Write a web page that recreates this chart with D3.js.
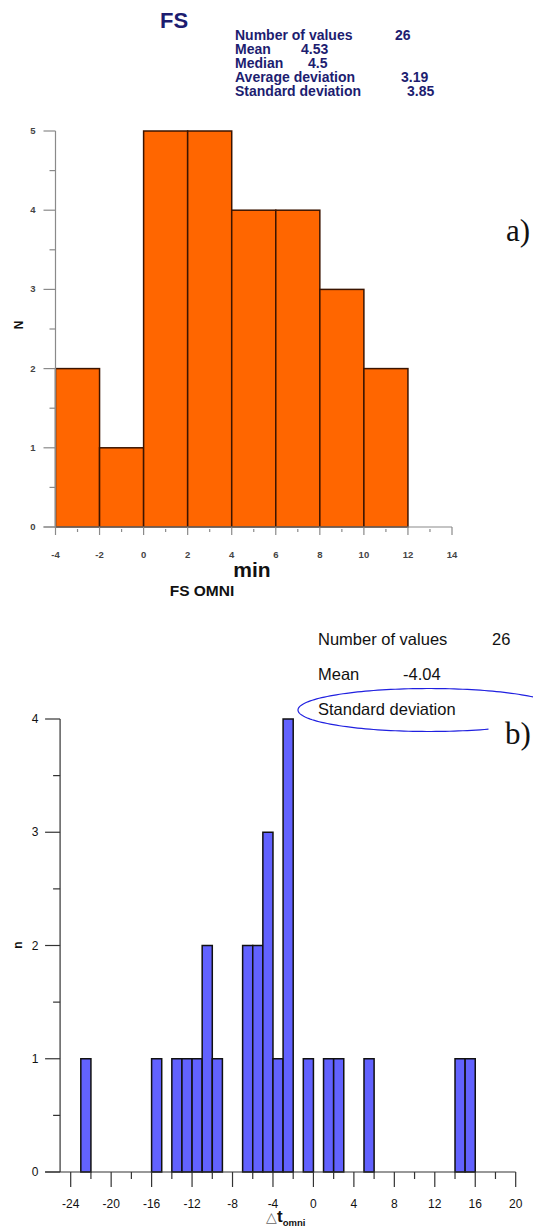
<!DOCTYPE html>
<html>
<head>
<meta charset="utf-8">
<script src="https://cdn.jsdelivr.net/npm/d3@7"></script>
<style>
  body { margin: 0; background: #fff; }
  svg { display: block; font-family: Arial, "Liberation Sans", sans-serif; }
</style>
</head>
<body>
<div id="chart"></div>
<script>
const width = 533, height = 1229;

// a) FS histogram (bins of 2 min)
const fsBinStarts = [-4, -2, 0, 2, 4, 6, 8, 10];
const fsCounts = [2, 1, 5, 5, 4, 4, 3, 2];
const fsStatsLabels = ["Number of values", "Mean", "Median", "Average deviation", "Standard deviation"];
const fsStatsValues = ["26", "4.53", "4.5", "3.19", "3.85"];

// b) delta t omni histogram (bins of 1)
const omniBinStarts = [-23, -16, -14, -13, -12, -11, -10, -7, -6, -5, -4, -3, -1, 1, 2, 5, 14, 15];
const omniCounts = [1, 1, 1, 1, 1, 2, 1, 2, 2, 3, 1, 4, 1, 1, 1, 1, 1, 1];
const omniStatsLabels = ["Number of values", "Mean", "Standard deviation"];
const omniStatsValues = ["26", "-4.04", ""];

const svg = d3.select("#chart").append("svg")
    .attr("width", width)
    .attr("height", height);

// ---------- chart a ----------
const xA = d3.scaleLinear().domain([-4, 14]).range([55.5, 452]);
const yA = d3.scaleLinear().domain([0, 5]).range([527, 131]);
const gA = svg.append("g");
const axisGrey = "#8a8a8a";

gA.selectAll("rect.fs")
  .data(fsCounts)
  .enter()
  .append("rect")
    .attr("class", "fs")
    .attr("x", (d, i) => xA(fsBinStarts[i]))
    .attr("y", d => yA(d))
    .attr("width", (d, i) => xA(fsBinStarts[i] + 2) - xA(fsBinStarts[i]))
    .attr("height", d => yA(0) - yA(d))
    .style("fill", "#ff6600")
    .style("stroke", "#3b1400")
    .style("stroke-width", 1.5);

// y axis
gA.append("line")
    .attr("x1", xA(-4)).attr("x2", xA(-4))
    .attr("y1", yA(0)).attr("y2", yA(5))
    .style("stroke", axisGrey).style("stroke-width", 1.2);
gA.selectAll("line.ytA")
  .data(d3.range(0, 5.01, 0.5))
  .enter().append("line")
    .attr("x1", d => Number.isInteger(d) ? xA(-4) - 12 : xA(-4) - 6)
    .attr("x2", xA(-4))
    .attr("y1", d => yA(d)).attr("y2", d => yA(d))
    .style("stroke", axisGrey).style("stroke-width", 1.2);
gA.selectAll("text.ylA")
  .data(d3.range(0, 6))
  .enter().append("text")
    .attr("x", 33)
    .attr("y", d => yA(d) + 3)
    .attr("text-anchor", "middle")
    .style("font-size", "9.5px")
    .style("font-weight", "bold")
    .style("fill", "#444")
    .text(d => d);

// x axis
gA.append("line")
    .attr("x1", xA(-4) - 12).attr("x2", xA(14))
    .attr("y1", yA(0)).attr("y2", yA(0))
    .style("stroke", axisGrey).style("stroke-width", 1.2);
gA.selectAll("line.xtA")
  .data(d3.range(-4, 14.01, 1))
  .enter().append("line")
    .attr("x1", d => xA(d)).attr("x2", d => xA(d))
    .attr("y1", d => d % 2 === 0 ? yA(0) : yA(0) + 2)
    .attr("y2", d => d % 2 === 0 ? yA(0) + 8 : yA(0) + 5)
    .style("stroke", axisGrey).style("stroke-width", 1.2);
gA.selectAll("text.xlA")
  .data(d3.range(-4, 14.01, 2))
  .enter().append("text")
    .attr("x", d => xA(d))
    .attr("y", yA(0) + 31)
    .attr("text-anchor", "middle")
    .style("font-size", "9.5px")
    .style("font-weight", "bold")
    .style("fill", "#444")
    .text(d => d);

gA.append("text")
    .attr("x", 252).attr("y", 577)
    .attr("text-anchor", "middle")
    .style("font-size", "21px").style("font-weight", "bold").style("fill", "#111")
    .text("min");
gA.append("text")
    .attr("x", 202).attr("y", 596)
    .attr("text-anchor", "middle")
    .style("font-size", "15.5px").style("font-weight", "bold").style("fill", "#111")
    .text("FS OMNI");
gA.append("text")
    .attr("transform", "translate(23,325) rotate(-90)")
    .attr("text-anchor", "middle")
    .style("font-size", "12px").style("font-weight", "bold").style("fill", "#111")
    .text("N");

// title + stats
const navy = "#1d1d70";
gA.append("text")
    .attr("x", 160).attr("y", 28)
    .style("font-size", "22px").style("font-weight", "bold").style("fill", navy)
    .text("FS");
const fsValX = [395, 301, 308, 401, 407];
fsStatsLabels.forEach((lab, i) => {
  gA.append("text")
      .attr("x", 235).attr("y", 40 + i * 14)
      .style("font-size", "14px").style("font-weight", "bold").style("fill", navy)
      .text(lab);
  gA.append("text")
      .attr("x", fsValX[i]).attr("y", 40 + i * 14)
      .style("font-size", "14px").style("font-weight", "bold").style("fill", navy)
      .text(fsStatsValues[i]);
});
svg.append("text")
    .attr("x", 506).attr("y", 241)
    .style("font-family", "'Liberation Serif', 'DejaVu Serif', serif")
    .style("font-size", "31px").style("fill", "#111")
    .text("a)");

// ---------- chart b ----------
const xB = d3.scaleLinear().domain([-24, 20]).range([70.7, 515.7]);
const yB = d3.scaleLinear().domain([0, 4]).range([1172, 719]);
const gB = svg.append("g");
const x0B = xB(-25.05);

gB.selectAll("rect.omni")
  .data(omniCounts)
  .enter()
  .append("rect")
    .attr("class", "omni")
    .attr("x", (d, i) => xB(omniBinStarts[i]))
    .attr("y", d => yB(d))
    .attr("width", (d, i) => xB(omniBinStarts[i] + 1) - xB(omniBinStarts[i]))
    .attr("height", d => yB(0) - yB(d))
    .style("fill", "#6262ff")
    .style("stroke", "#111")
    .style("stroke-width", 1.5);

gB.append("line")
    .attr("x1", x0B).attr("x2", x0B)
    .attr("y1", yB(0)).attr("y2", yB(4))
    .style("stroke", "#333").style("stroke-width", 1.2);
gB.selectAll("line.ytB")
  .data(d3.range(0, 4.01, 0.5))
  .enter().append("line")
    .attr("x1", d => Number.isInteger(d) ? x0B - 15 : x0B - 7)
    .attr("x2", x0B)
    .attr("y1", d => yB(d)).attr("y2", d => yB(d))
    .style("stroke", "#333").style("stroke-width", 1.2);
gB.selectAll("text.ylB")
  .data(d3.range(0, 5))
  .enter().append("text")
    .attr("x", 35)
    .attr("y", d => yB(d) + 4)
    .attr("text-anchor", "middle")
    .style("font-size", "12px")
    .style("fill", "#111")
    .text(d => d);

gB.append("line")
    .attr("x1", x0B - 15).attr("x2", xB(20))
    .attr("y1", yB(0)).attr("y2", yB(0))
    .style("stroke", "#333").style("stroke-width", 1.2);
gB.selectAll("line.xtB")
  .data(d3.range(-24, 20.01, 2))
  .enter().append("line")
    .attr("x1", d => xB(d)).attr("x2", d => xB(d))
    .attr("y1", yB(0))
    .attr("y2", d => d % 4 === 0 ? yB(0) + 15 : yB(0) + 7)
    .style("stroke", "#333").style("stroke-width", 1.2);
gB.selectAll("text.xlB")
  .data(d3.range(-24, 20.01, 4))
  .enter().append("text")
    .attr("x", d => xB(d))
    .attr("y", 1208)
    .attr("text-anchor", "middle")
    .style("font-size", "12px")
    .style("fill", "#111")
    .text(d => d);

const xLab = gB.append("text")
    .attr("x", 266).attr("y", 1222)
    .style("fill", "#111");
xLab.append("tspan").style("font-size", "14px").style("fill", "#666").text("△");
xLab.append("tspan").style("font-size", "17px").style("font-weight", "bold").text("t");
xLab.append("tspan").attr("dy", 4).style("font-size", "9.5px").style("font-weight", "bold").text("omni");

gB.append("text")
    .attr("transform", "translate(22,945) rotate(-90)")
    .attr("text-anchor", "middle")
    .style("font-size", "12px").style("font-weight", "bold").style("fill", "#111")
    .text("n");

const omniValX = [492, 403, 0];
omniStatsLabels.forEach((lab, i) => {
  gB.append("text")
      .attr("x", 318).attr("y", 645 + i * 35)
      .style("font-size", "16.5px").style("fill", "#111")
      .text(lab);
  if (omniStatsValues[i])
    gB.append("text")
        .attr("x", omniValX[i]).attr("y", 645 + i * 35)
        .style("font-size", "16.5px").style("fill", "#111")
        .text(omniStatsValues[i]);
});

// open ellipse around "Standard deviation"
const cx = 429, cy = 710, rx = 131, ry = 21.5;
const ell = d3.range(63, 361, 2).map(a => {
  const t = a * Math.PI / 180;
  return [cx + rx * Math.cos(t), cy + ry * Math.sin(t)];
});
svg.append("path")
    .attr("d", d3.line()(ell))
    .style("fill", "none")
    .style("stroke", "#2020e0")
    .style("stroke-width", 1.2);

svg.append("text")
    .attr("x", 505).attr("y", 744)
    .style("font-family", "'Liberation Serif', 'DejaVu Serif', serif")
    .style("font-size", "31px").style("fill", "#111")
    .text("b)");
</script>
</body>
</html>
